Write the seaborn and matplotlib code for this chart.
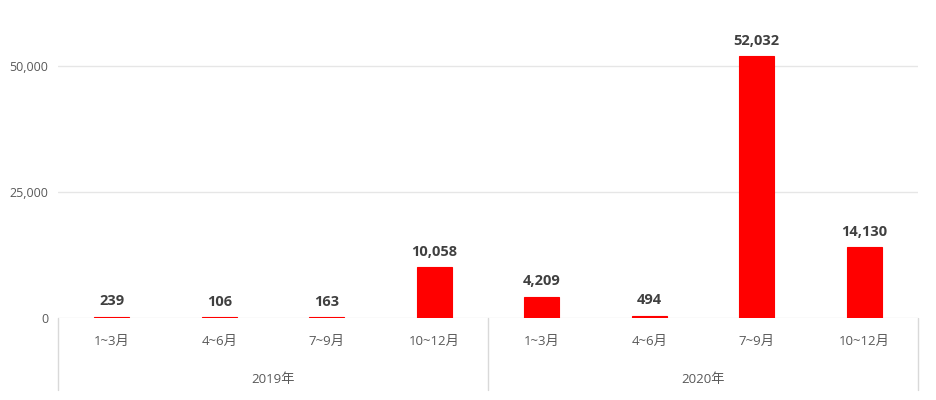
import matplotlib
matplotlib.use("Agg")
import matplotlib.pyplot as plt
import matplotlib.transforms as mtransforms
import pandas as pd
import seaborn as sns

years = ["2019年", "2020年"]
quarters = ["1~3月", "4~6月", "7~9月", "10~12月"]
values_2019 = [239, 106, 163, 10058]
values_2020 = [4209, 494, 52032, 14130]
y_ticks = [0, 25000, 50000]

rows = []
for year, vals in zip(years, [values_2019, values_2020]):
    for q, v in zip(quarters, vals):
        rows.append({"key": f"{year} {q}", "year": year, "quarter": q, "value": v})
df = pd.DataFrame(rows)

sns.set_theme(style="white")
plt.rcParams["font.family"] = ["Open Sans", "Noto Sans CJK JP", "DejaVu Sans"]

fig = plt.figure(figsize=(9.37, 4.0), dpi=100)
ax = fig.add_axes([58 / 937, 82 / 400, 860 / 937, 302 / 400])

sns.barplot(data=df, x="key", y="value", color="#ff0000", saturation=1,
            width=0.33, ax=ax, order=df["key"].tolist(),
            edgecolor="#ff0000", linewidth=0.8)

ax.set_ylim(0, 60000)
ax.set_xlim(-0.5, len(df) - 0.5)
ax.set_yticks(y_ticks)
ax.set_yticklabels([f"{t:,}" for t in y_ticks], color="#595959", fontsize=9)
ax.tick_params(axis="y", length=0, pad=7)
for t in y_ticks:
    ax.axhline(t, color="#e6e6e6", lw=1, zorder=0)
ax.set_xticks([])
ax.set_xlabel("")
ax.set_ylabel("")
for s in ax.spines.values():
    s.set_visible(False)

for i, v in enumerate(df["value"]):
    ax.annotate(f"{v:,}", (i, v), xytext=(0, 6), textcoords="offset points",
                ha="center", va="bottom", fontsize=10.5, fontweight="bold",
                color="#404040")

trans = mtransforms.blended_transform_factory(ax.transData, ax.transAxes)
# quarter labels
for i, q in enumerate(df["quarter"]):
    ax.text(i, -23 / 302, q, transform=trans, ha="center", va="center",
            fontsize=9.5, color="#595959")
# year labels and group separators
for j, year in enumerate(years):
    center = j * len(quarters) + (len(quarters) - 1) / 2
    ax.text(center, -61 / 302, year, transform=trans, ha="center", va="center",
            fontsize=9.5, color="#595959")
for x in [-0.5, 3.5, 7.5]:
    ax.plot([x, x], [0, -72 / 302], transform=trans, color="#d9d9d9", lw=1,
            clip_on=False)

fig.savefig("out.png", dpi=100)
